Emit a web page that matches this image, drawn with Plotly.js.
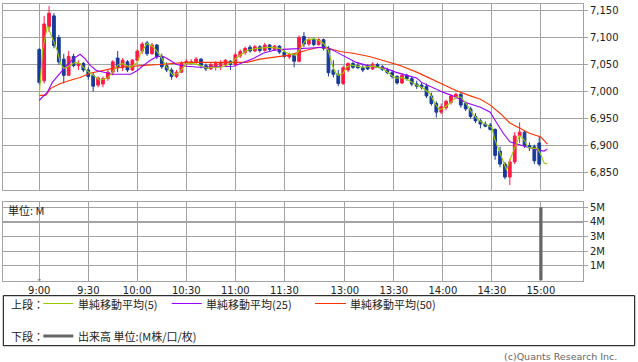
<!DOCTYPE html>
<html>
<head>
<meta charset="utf-8">
<script src="https://cdn.plot.ly/plotly-3.0.1.min.js"></script>
<style>html,body{margin:0;padding:0;background:#fff;}#chart{width:638px;height:362px;}</style>
</head>
<body>
<div id="chart"></div>
<script>
// ---- data (time index in minutes of session, 9:00 = 0; lunch break compressed) ----
const times = [0,3,6,9,12,15,18,21,24,27,30,33,36,39,42,45,48,51,54,57,60,63,66,69,72,75,78,81,84,87,90,93,96,99,102,105,108,111,114,117,120,123,126,129,132,135,138,141,144,147,150,153,156,159,162,165,168,171,174,177,180,183,186,189,192,195,198,201,204,207,210,213,216,219,222,225,228,231,234,237,240,243,246,249,252,255,258,261,264,267,270,273,276,279,282,285,288,291,294,297,300,303,306];
const opens  = [7078,7020,7120,7140,7100,7060,7030,7065,7048,7052,7040,7030,7012,7014,7024,7036,7062,7045,7055,7040,7058,7075,7090,7070,7086,7064,7048,7040,7028,7036,7052,7052,7055,7060,7048,7042,7045,7048,7050,7056,7050,7066,7072,7082,7075,7083,7076,7086,7078,7084,7073,7064,7068,7056,7102,7088,7096,7087,7096,7080,7040,7032,7015,7040,7052,7048,7044,7048,7042,7050,7046,7040,7035,7028,7016,7030,7024,7014,7012,7010,6992,6978,6962,6970,6980,6990,6995,6978,6968,6954,6946,6940,6938,6930,6890,6866,6842,6870,6918,6925,6900,6898,6905];
const highs  = [7080,7140,7158,7145,7105,7070,7075,7070,7058,7055,7045,7035,7028,7028,7040,7058,7075,7062,7058,7060,7078,7092,7094,7090,7088,7070,7054,7044,7040,7056,7060,7060,7064,7062,7052,7054,7056,7058,7060,7058,7072,7078,7083,7086,7086,7086,7090,7088,7086,7086,7076,7072,7070,7104,7110,7100,7098,7099,7098,7084,7058,7040,7048,7054,7056,7055,7050,7050,7054,7053,7049,7044,7040,7030,7034,7033,7028,7020,7016,7015,6998,6982,6978,6985,6995,6998,6997,6982,6972,6960,6950,6945,6942,6932,6898,6870,6875,6925,6943,6928,6906,6902,6916];
const lows   = [7013,7015,7110,7080,7050,7015,7030,7045,7040,7036,7022,7000,7008,7008,7020,7030,7036,7038,7036,7038,7055,7070,7066,7068,7060,7042,7036,7022,7025,7034,7048,7050,7050,7043,7038,7040,7039,7040,7046,7040,7048,7062,7068,7072,7073,7072,7074,7075,7076,7070,7062,7060,7045,7054,7082,7084,7084,7085,7076,7028,7026,7010,7012,7036,7042,7042,7036,7040,7040,7044,7038,7032,7024,7013,7014,7020,7010,7005,7004,6988,6974,6952,6958,6966,6976,6986,6970,6964,6950,6942,6932,6934,6928,6874,6860,6838,6827,6866,6905,6896,6890,6866,6862];
const closes = [7017,7125,7145,7085,7055,7030,7065,7048,7052,7040,7028,7010,7025,7024,7036,7055,7045,7058,7040,7058,7075,7088,7070,7086,7064,7046,7040,7028,7036,7052,7056,7055,7060,7048,7042,7050,7052,7054,7058,7050,7068,7074,7080,7075,7083,7076,7086,7078,7084,7073,7065,7068,7056,7100,7088,7096,7087,7096,7080,7035,7032,7015,7044,7052,7045,7044,7040,7042,7051,7046,7041,7035,7028,7016,7030,7024,7014,7010,7008,6992,6978,6962,6972,6982,6992,6995,6975,6968,6954,6946,6940,6936,6930,6882,6866,6842,6870,6918,6925,6900,6896,6872,6866];

// moving averages
const ma5Times  = [0,2,5,8,11,13,15,17,19,22,25,29,33,37,42,45,48,51,56,60,62,66,70,74,78,82,86,90,94,98,103,106,111,114,118,121,127,133,141,147,152,157,160,163,168,171,174,177,179,181,183,186,188,191,198,204,210,214,218,222,226,231,234,239,242,245,248,252,255,258,261,265,269,274,277,279,282,285,286,288,291,293,294,297,299,302,305,307,309,311];
const ma5       = [6993,7076,7122,7100,7076,7052,7043,7045,7049,7054,7052,7039,7030,7021,7025,7036,7049,7052,7045,7054,7071,7089,7082,7067,7045,7030,7036,7052,7052,7049,7043,7045,7045,7048,7054,7063,7076,7080,7082,7080,7071,7067,7082,7095,7098,7095,7089,7076,7052,7036,7030,7034,7045,7049,7045,7047,7043,7034,7025,7026,7021,7012,7008,6997,6979,6966,6971,6980,6990,6990,6979,6960,6947,6938,6934,6910,6886,6864,6855,6873,6897,6914,6919,6910,6897,6895,6895,6883,6868,6866];
const ma25Times = [0,5,8,13,17,21,25,28,31,35,39,45,56,60,64,68,72,76,80,84,90,98,119,125,131,137,143,149,163,171,176,182,188,194,200,206,212,218,225,231,234,247,255,261,270,276,280,284,288,292,299,305,309,311];
const ma25      = [6984,6999,7017,7036,7049,7061,7069,7061,7049,7039,7036,7032,7032,7039,7049,7058,7065,7065,7058,7050,7047,7045,7047,7054,7061,7071,7076,7078,7080,7082,7082,7073,7063,7054,7049,7045,7043,7036,7030,7025,7017,6999,6990,6980,6971,6962,6942,6923,6907,6903,6897,6892,6890,6894];
const ma50Times = [0,4,7,13,19,25,31,37,45,51,57,66,74,82,90,115,127,135,143,152,163,171,177,184,192,202,212,220,231,244,255,263,270,276,282,288,294,300,307,311];
const ma50      = [6993,6993,7006,7015,7021,7026,7034,7038,7043,7045,7047,7049,7050,7052,7054,7054,7054,7060,7063,7067,7076,7082,7080,7074,7071,7065,7056,7049,7036,7017,7002,6993,6986,6975,6960,6942,6932,6923,6916,6903];

// volume (shares)
const volTimes = [0, 307];
const volumes  = [70000, 5000000];

// axis ticks
const xTickVals   = [0,30,60,90,120,150,187,217,247,277,307];
const xTickLabels = ['9:00','9:30','10:00','10:30','11:00','11:30','13:00','13:30','14:00','14:30','15:00'];
const priceTicks  = [6850,6900,6950,7000,7050,7100,7150];
const priceLabels = ['6,850','6,900','6,950','7,000','7,050','7,100','7,150'];
const volTicks    = [1e6,2e6,3e6,4e6,5e6];
const volLabels   = ['1M','2M','3M','4M','5M'];

// legend texts
const legendTop    = ['単純移動平均(5)','単純移動平均(25)','単純移動平均(50)'];
const legendBottom = '出来高 単位:(M株/口/枚)';

// ---- rendering ----
const W = 638, H = 362;
const PX = x => x / W;
const PY = y => 1 - y / H;
const GRID = '#a3a3a3';
const C_UP = '#ff1a45', C_DN = '#173a9a';
const C_MA5 = '#99cc00', C_MA25 = '#9900ff', C_MA50 = '#ff3300';
const TICKFONT = {family: 'DejaVu Sans', size: 10, color: '#222'};
const JP = {family: 'Noto Sans CJK JP', size: 11, color: '#222'};

const traces = [
  {type: 'candlestick', x: times, open: opens, high: highs, low: lows, close: closes,
   increasing: {line: {color: C_UP, width: 1}, fillcolor: C_UP},
   decreasing: {line: {color: C_DN, width: 1}, fillcolor: C_DN},
   whiskerwidth: 0, xaxis: 'x', yaxis: 'y', hoverinfo: 'skip', showlegend: false},
  {type: 'scatter', mode: 'lines', x: ma50Times, y: ma50, line: {color: C_MA50, width: 1.1},
   xaxis: 'x', yaxis: 'y', hoverinfo: 'skip', showlegend: false},
  {type: 'scatter', mode: 'lines', x: ma25Times, y: ma25, line: {color: C_MA25, width: 1.1},
   xaxis: 'x', yaxis: 'y', hoverinfo: 'skip', showlegend: false},
  {type: 'scatter', mode: 'lines', x: ma5Times, y: ma5, line: {color: C_MA5, width: 1.1},
   xaxis: 'x', yaxis: 'y', hoverinfo: 'skip', showlegend: false},
  {type: 'bar', x: volTimes, y: volumes, width: 2, marker: {color: '#666666', line: {width: 0}},
   xaxis: 'x2', yaxis: 'y2', hoverinfo: 'skip', showlegend: false}
];

const xRange = [-22, 332.6];
const xDomain = [PX(3.3), PX(582.7)];
const baseX = {
  domain: xDomain, range: xRange, tickvals: xTickVals, ticktext: xTickLabels,
  showgrid: true, gridcolor: GRID, gridwidth: 1.2, zeroline: false,
  showline: true, mirror: true, linecolor: GRID, linewidth: 1.2,
  ticks: '', fixedrange: true, tickfont: TICKFONT
};

const layout = {
  width: W, height: H, margin: {l: 0, r: 0, t: 0, b: 0},
  paper_bgcolor: '#fff', plot_bgcolor: '#fff', showlegend: false,
  boxgap: 0.2,
  xaxis: Object.assign({}, baseX, {anchor: 'y', showticklabels: false, rangeslider: {visible: false}}),
  xaxis2: Object.assign({}, baseX, {anchor: 'y2', showticklabels: true}),
  yaxis: {
    domain: [PY(190), PY(4)], range: [6818, 7162], anchor: 'x', side: 'right',
    tickvals: priceTicks, ticktext: priceLabels, ticks: 'outside', ticklen: 4, tickcolor: GRID,
    showgrid: true, gridcolor: GRID, gridwidth: 1.2, zeroline: false,
    showline: true, mirror: true, linecolor: GRID, linewidth: 1.2,
    tickfont: TICKFONT, fixedrange: true
  },
  yaxis2: {
    domain: [PY(280.5), PY(201.7)], range: [0, 5.38e6], anchor: 'x2', side: 'right',
    tickvals: volTicks, ticktext: volLabels, ticks: 'outside', ticklen: 4, tickcolor: GRID,
    showgrid: true, gridcolor: GRID, gridwidth: 1.2, zeroline: false,
    showline: true, mirror: true, linecolor: GRID, linewidth: 1.2,
    tickfont: TICKFONT, fixedrange: true
  },
  shapes: [
    {type: 'rect', xref: 'paper', yref: 'paper', x0: PX(3.3), x1: PX(634.7), y0: PY(345.7), y1: PY(295.7),
     line: {color: '#000', width: 1}, fillcolor: 'rgba(0,0,0,0)'},
    {type: 'line', xref: 'paper', yref: 'paper', x0: PX(43.3), x1: PX(73.3), y0: PY(303.5), y1: PY(303.5), line: {color: C_MA5, width: 1}},
    {type: 'line', xref: 'paper', yref: 'paper', x0: PX(171.7), x1: PX(201.7), y0: PY(303.5), y1: PY(303.5), line: {color: C_MA25, width: 1}},
    {type: 'line', xref: 'paper', yref: 'paper', x0: PX(315), x1: PX(346), y0: PY(303.5), y1: PY(303.5), line: {color: C_MA50, width: 1}},
    {type: 'line', xref: 'paper', yref: 'paper', x0: PX(43.3), x1: PX(73.3), y0: PY(336), y1: PY(336), line: {color: '#666', width: 3}}
  ],
  annotations: [
    {text: '上段：', x: PX(10), y: PY(303.5)},
    {text: legendTop[0], x: PX(77), y: PY(303.5)},
    {text: legendTop[1], x: PX(205), y: PY(303.5)},
    {text: legendTop[2], x: PX(349), y: PY(303.5)},
    {text: '下段：', x: PX(10), y: PY(336)},
    {text: legendBottom, x: PX(77), y: PY(336)},
    {text: '単位: M', x: PX(7), y: PY(209.5)},
    {text: '(c)Quants Research Inc.', x: PX(618), y: PY(356.5), xanchor: 'right',
     font: {family: 'DejaVu Sans', size: 9.5, color: '#666'}}
  ].map(a => Object.assign({xref: 'paper', yref: 'paper', xanchor: 'left', yanchor: 'middle',
                            showarrow: false, font: JP, borderpad: 0}, a))
};

Plotly.newPlot('chart', traces, layout, {staticPlot: true, displayModeBar: false});
</script>
</body>
</html>
